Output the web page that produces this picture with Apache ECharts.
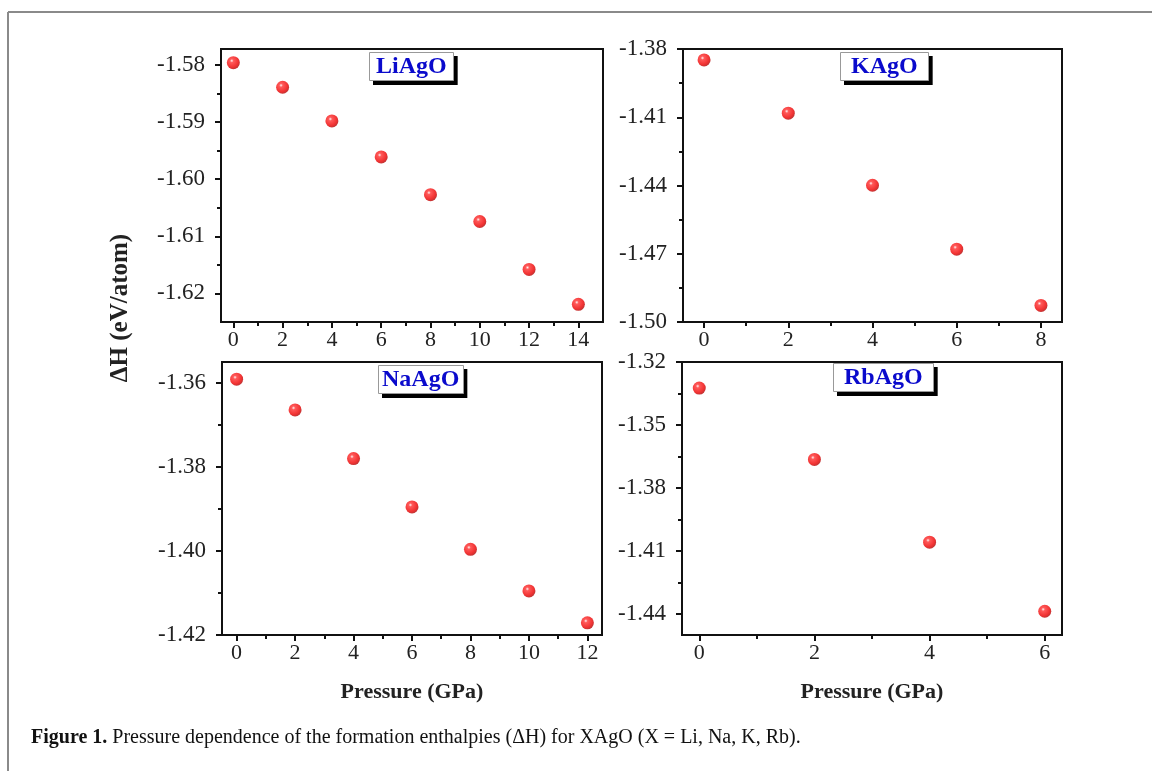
<!DOCTYPE html>
<html>
<head>
<meta charset="utf-8">
<script src="https://cdn.jsdelivr.net/npm/echarts@6/dist/echarts.min.js"></script>
<style>
html,body{margin:0;padding:0;background:#fff;}
#chart{width:1152px;height:771px;}
</style>
</head>
<body>
<div id="chart"></div>
<script>
// ---------------- data ----------------
const panelNames = ['LiAgO', 'KAgO', 'NaAgO', 'RbAgO'];

const pressureLi = [0, 2, 4, 6, 8, 10, 12, 14];
const dHLi = [-1.5796, -1.5839, -1.5898, -1.5961, -1.6027, -1.6074, -1.6158, -1.6219];

const pressureK = [0, 2, 4, 6, 8];
const dHK = [-1.3848, -1.4082, -1.4399, -1.4680, -1.4927];

const pressureNa = [0, 2, 4, 6, 8, 10, 12];
const dHNa = [-1.3591, -1.3664, -1.3780, -1.3895, -1.3996, -1.4095, -1.4171];

const pressureRb = [0, 2, 4, 6];
const dHRb = [-1.3324, -1.3664, -1.4058, -1.4387];

// tick labels (major) and minor tick values
const yTicksLi = [-1.58, -1.59, -1.60, -1.61, -1.62];
const yMinorLi = [-1.585, -1.595, -1.605, -1.615];
const xTicksLi = [0, 2, 4, 6, 8, 10, 12, 14];
const xMinorLi = [1, 3, 5, 7, 9, 11, 13];

const yTicksK = [-1.38, -1.41, -1.44, -1.47, -1.50];
const yMinorK = [-1.395, -1.425, -1.455, -1.485];
const xTicksK = [0, 2, 4, 6, 8];
const xMinorK = [1, 3, 5, 7];

const yTicksNa = [-1.36, -1.38, -1.40, -1.42];
const yMinorNa = [-1.37, -1.39, -1.41];
const xTicksNa = [0, 2, 4, 6, 8, 10, 12];
const xMinorNa = [1, 3, 5, 7, 9, 11];

const yTicksRb = [-1.32, -1.35, -1.38, -1.41, -1.44];
const yMinorRb = [-1.335, -1.365, -1.395, -1.425];
const xTicksRb = [0, 2, 4, 6];
const xMinorRb = [1, 3, 5];

const yTitle = 'ΔH (eV/atom)';
const xTitle = 'Pressure (GPa)';
const captionBold = 'Figure 1.';
const captionText = ' Pressure dependence of the formation enthalpies (ΔH) for XAgO (X = Li, Na, K, Rb).';

// ---------------- layout / style ----------------
const SERIF = '"Liberation Serif", "DejaVu Serif", serif';
const panels = [
  {x: pressureLi, y: dHLi, xr: [-0.5, 15], yr: [-1.625, -1.5772], yt: yTicksLi, ym: yMinorLi, xt: xTicksLi, xm: xMinorLi,
   grid: {left: 221, top: 49, width: 382, height: 273}, title: {left: 369, top: 52, padding: [3, 7, 2, 7]}, xName: false},
  {x: pressureK, y: dHK, xr: [-0.5, 8.5], yr: [-1.50, -1.38], yt: yTicksK, ym: yMinorK, xt: xTicksK, xm: xMinorK,
   grid: {left: 683, top: 49, width: 379, height: 273}, title: {left: 840, top: 52, padding: [3, 11, 2, 11]}, xName: false},
  {x: pressureNa, y: dHNa, xr: [-0.5, 12.5], yr: [-1.42, -1.355], yt: yTicksNa, ym: yMinorNa, xt: xTicksNa, xm: xMinorNa,
   grid: {left: 222, top: 362, width: 380, height: 273}, title: {left: 378, top: 365, padding: [3, 4, 2, 4]}, xName: true},
  {x: pressureRb, y: dHRb, xr: [-0.3, 6.3], yr: [-1.45, -1.32], yt: yTicksRb, ym: yMinorRb, xt: xTicksRb, xm: xMinorRb,
   grid: {left: 682, top: 362, width: 380, height: 273}, title: {left: 833, top: 363, padding: [3, 11, 2, 11]}, xName: true}
];

const sphere = {
  type: 'radial', x: 0.38, y: 0.35, r: 0.7,
  colorStops: [
    {offset: 0, color: '#fff0f0'},
    {offset: 0.2, color: '#ff3030'},
    {offset: 0.7, color: '#ee0000'},
    {offset: 1, color: '#a80000'}
  ]
};

const grids = [], xAxes = [], yAxes = [], series = [], titles = [];
const titleFont = {fontFamily: SERIF, fontWeight: 'bold', fontSize: 24, lineHeight: 24};
panels.forEach((p, i) => {
  grids.push(Object.assign({show: true, borderColor: '#111', borderWidth: 2, backgroundColor: 'transparent'}, p.grid));
  xAxes.push({
    type: 'value', gridIndex: i, min: p.xr[0], max: p.xr[1], position: 'bottom',
    axisLine: {show: false, onZero: false},
    axisTick: {show: true, length: 6, inside: false, customValues: p.xt, lineStyle: {color: '#111', width: 2}},
    axisLabel: {show: true, customValues: p.xt, margin: 7, fontFamily: SERIF, fontSize: 22, color: '#222',
                formatter: v => String(Math.round(v))},
    splitLine: {show: false},
    name: p.xName ? xTitle : '', nameLocation: 'middle', nameGap: 46,
    nameTextStyle: {fontFamily: SERIF, fontWeight: 'bold', fontSize: 22, color: '#222'}
  });
  xAxes.push({
    type: 'value', gridIndex: i, min: p.xr[0], max: p.xr[1], position: 'bottom',
    axisLine: {show: false, onZero: false},
    axisTick: {show: true, length: 4, inside: false, customValues: p.xm, lineStyle: {color: '#111', width: 2}},
    axisLabel: {show: false}, splitLine: {show: false}
  });
  yAxes.push({
    type: 'value', gridIndex: i, min: p.yr[0], max: p.yr[1], position: 'left',
    axisLine: {show: false, onZero: false},
    axisTick: {show: true, length: 6, inside: false, customValues: p.yt, lineStyle: {color: '#111', width: 2}},
    axisLabel: {show: true, customValues: p.yt, margin: 16, fontFamily: SERIF, fontSize: 23, color: '#222',
                formatter: v => v.toFixed(2)},
    splitLine: {show: false}
  });
  yAxes.push({
    type: 'value', gridIndex: i, min: p.yr[0], max: p.yr[1], position: 'left',
    axisLine: {show: false, onZero: false},
    axisTick: {show: true, length: 4, inside: false, customValues: p.ym, lineStyle: {color: '#111', width: 2}},
    axisLabel: {show: false}, splitLine: {show: false}
  });
  series.push({
    type: 'scatter', xAxisIndex: 2 * i, yAxisIndex: 2 * i,
    data: p.x.map((v, k) => [v, p.y[k]]),
    symbol: 'circle', symbolSize: 13,
    itemStyle: {color: sphere, borderWidth: 0},
    emphasis: {disabled: true}
  });
  // shadow box (offset black copy), then the bordered white box on top
  titles.push({
    text: panelNames[i], left: p.title.left + 4, top: p.title.top + 4, padding: p.title.padding,
    backgroundColor: '#000', borderWidth: 0, z: 5,
    textStyle: Object.assign({color: '#000'}, titleFont)
  });
  titles.push({
    text: panelNames[i], left: p.title.left, top: p.title.top, padding: p.title.padding,
    backgroundColor: '#fff', borderColor: '#999', borderWidth: 1, z: 6,
    textStyle: Object.assign({color: '#0a0acc'}, titleFont)
  });
});

const chart = echarts.init(document.getElementById('chart'), null, {renderer: 'canvas'});
chart.setOption({
  backgroundColor: '#fff',
  animation: false,
  title: titles,
  grid: grids,
  xAxis: xAxes,
  yAxis: yAxes,
  series: series,
  graphic: [
    {type: 'line', shape: {x1: 8, y1: 12, x2: 1152, y2: 12}, style: {stroke: '#8a8a8a', lineWidth: 2}, silent: true},
    {type: 'line', shape: {x1: 8, y1: 12, x2: 8, y2: 771}, style: {stroke: '#8a8a8a', lineWidth: 2}, silent: true},
    {type: 'text', x: 121, y: 308, rotation: Math.PI / 2,
     style: {text: yTitle, font: 'bold 25px ' + SERIF, fill: '#222', align: 'center', verticalAlign: 'middle'}, silent: true},
    {type: 'text', x: 31, y: 738,
     style: {
       text: '{b|' + captionBold + '}{n|' + captionText + '}',
       verticalAlign: 'middle', align: 'left',
       rich: {
         b: {fontFamily: SERIF, fontWeight: 'bold', fontSize: 20, fill: '#111', color: '#111'},
         n: {fontFamily: SERIF, fontSize: 20, fill: '#111', color: '#111'}
       }
     }, silent: true}
  ]
});
</script>
</body>
</html>
